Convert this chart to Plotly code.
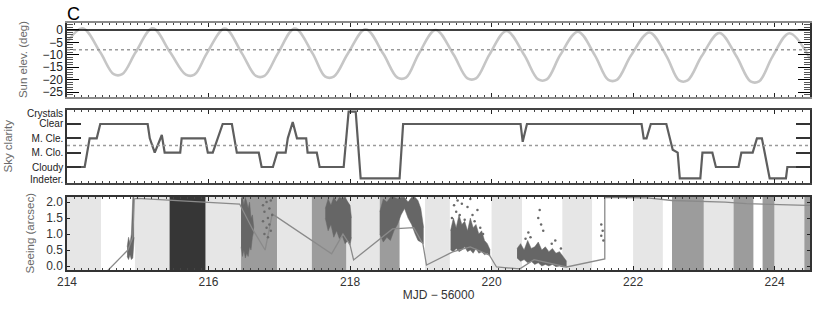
import plotly.graph_objects as go

# ---------------- data ----------------
# Top panel: sun elevation (deg) vs MJD-56000
sun_mjd = [214.0, 214.22, 214.47, 214.66, 214.78, 214.97,
           215.21, 215.46, 215.68, 215.80, 215.98,
           216.23, 216.47, 216.67, 216.79, 216.98,
           217.22, 217.47, 217.65, 217.77, 217.97,
           218.22, 218.47, 218.67, 218.79, 218.97,
           219.21, 219.46, 219.66, 219.78, 219.97,
           220.21, 220.46, 220.66, 220.78, 220.97,
           221.22, 221.46, 221.65, 221.77, 221.97,
           222.23, 222.47, 222.65, 222.77, 222.97,
           223.22, 223.46, 223.66, 223.78, 223.97,
           224.21, 224.5]
sun_elev = [-5.0, 0.7, -9.0, -17.8, -17.8, -9.0,
            0.7, -9.1, -18.0, -18.0, -9.2,
            0.6, -9.3, -18.5, -18.5, -9.4,
            0.6, -9.4, -18.8, -18.8, -9.5,
            0.3, -9.6, -19.2, -19.2, -9.7,
            0.0, -9.8, -19.5, -19.5, -9.9,
            -0.4, -10.0, -19.9, -19.9, -10.1,
            -0.7, -10.2, -20.1, -20.1, -10.3,
            -1.0, -10.4, -20.3, -20.3, -10.5,
            -1.2, -10.6, -20.7, -20.7, -10.7,
            -1.3, -11.5]
sun_ticks = [-25, -20, -15, -10, -5, 0]
sun_ref_solid = 0
sun_ref_dotted = -8

# Middle panel: sky clarity level
sky_mjd = [214.0, 214.25, 214.32, 214.42, 214.47, 215.14, 215.17, 215.24, 215.34, 215.38,
           215.60, 215.62, 215.95, 215.99, 216.06, 216.13, 216.20, 216.33, 216.40, 216.71,
           216.75, 216.91, 216.97, 217.09, 217.12, 217.19, 217.25, 217.38, 217.40, 217.53,
           217.57, 217.91, 217.98, 218.08, 218.15, 218.70, 218.75, 220.41, 220.44, 220.50,
           222.12, 222.15, 222.19, 222.25, 222.47, 222.56, 222.63, 222.66, 222.95, 222.98,
           223.12, 223.17, 223.49, 223.53, 223.69, 223.75, 223.82, 223.86, 223.93, 224.16,
           224.18, 224.5]
sky_level = [1, 1, 3, 3, 4, 4, 3, 2, 3.23, 2,
             2, 3, 3, 2, 2, 3, 4, 4, 2, 2,
             1, 1, 2, 2, 3, 4.14, 3, 3, 2, 2,
             1, 1, 4.86, 4.86, 0.2, 0.2, 4, 4, 2.76, 4,
             4, 3, 3, 4, 4, 2.2, 2, 0.2, 0.2, 2,
             2, 1, 1, 2, 2, 3, 3, 2, 0.2, 0.2,
             1, 1]
sky_tick_vals = [1, 2, 3, 4]
sky_tick_text = ["Cloudy", "M. Clo.", "M. Cle.", "Clear"]
sky_extra_labels = ["Indeter.", "Crystals"]
sky_extra_pos = [0.12, 4.75]
sky_ref_dotted = 2.5

# Bottom panel: shaded time bands
band_start = [214.0, 214.96, 215.45, 215.96, 216.46, 216.97, 217.46, 217.95, 218.42,
              219.06, 220.0, 221.0, 222.0, 222.55, 223.0, 223.42, 223.83, 224.0, 224.42]
band_end = [214.48, 215.45, 215.96, 216.46, 216.97, 217.46, 217.95, 218.42, 218.70,
            219.41, 220.43, 221.42, 222.42, 223.0, 223.42, 223.70, 224.0, 224.42, 224.5]
band_kind = ["light", "light", "dark", "light", "medium", "light", "medium", "light", "medium",
             "light", "light", "light", "light", "medium", "light", "medium", "medium", "light", "medium"]

# Seeing (arcsec): connecting line
see_line_mjd = [214.55, 214.86, 214.93, 214.95, 214.99, 216.44, 216.62, 216.80, 216.90,
                217.74, 217.90, 218.0, 218.05, 218.60, 218.90, 219.03, 219.08, 219.45,
                219.70, 219.97, 220.07, 220.40, 220.60, 221.06, 221.60, 221.60, 222.2,
                222.55, 223.3, 223.6, 224.45, 224.5]
see_line_val = [-0.2, 0.5, 0.9, 2.1, 2.12, 1.94, 1.16, 0.5, 1.63,
                0.38, 1.0, 0.66, 0.19, 1.16, 1.2, 0.69, 0.03, 0.44,
                0.6, 0.34, -0.03, -0.09, 0.2, -0.03, 0.22, 2.15, 2.13,
                2.05, 2.0, 1.95, 1.9, 1.9]

# Seeing: dense measurement clusters (lower / upper envelope)
clus1_mjd = [214.85, 214.87, 214.89, 214.91, 214.93, 214.95]
clus1_lo = [0.3, 0.2, 0.35, 0.2, 0.25, 0.9]
clus1_hi = [0.6, 0.9, 0.7, 1.0, 2.15, 2.15]
clus2_mjd = [216.46, 216.48, 216.50, 216.52, 216.54, 216.56, 216.58, 216.60, 216.62, 216.64]
clus2_lo = [0.6, 0.3, 0.5, 0.25, 0.4, 0.3, 0.6, 0.5, 0.9, 1.1]
clus2_hi = [2.1, 2.15, 1.9, 2.15, 2.0, 1.8, 2.0, 1.5, 1.6, 1.2]
clus3_mjd = [217.65, 217.69, 217.73, 217.77, 217.81, 217.85, 217.89, 217.93, 217.97, 218.0, 218.02]
clus3_lo = [1.5, 1.1, 1.3, 0.9, 1.1, 0.85, 0.95, 0.7, 0.8, 0.65, 0.9]
clus3_hi = [1.8, 2.1, 1.9, 2.15, 2.0, 2.15, 2.1, 2.15, 2.0, 1.9, 1.5]
clus4_mjd = [218.42, 218.47, 218.52, 218.57, 218.62, 218.67, 218.72, 218.77, 218.82, 218.87,
             218.92, 218.96, 219.0, 219.04]
clus4_lo = [1.0, 0.75, 0.9, 0.8, 1.1, 1.3, 1.6, 1.8, 1.5, 1.3, 1.0, 0.8, 0.75, 0.7]
clus4_hi = [1.7, 2.1, 2.0, 2.15, 2.15, 2.1, 2.15, 2.15, 2.0, 2.15, 2.15, 2.05, 1.8, 1.2]
clus5_mjd = [219.42, 219.46, 219.50, 219.54, 219.58, 219.62, 219.66, 219.70, 219.74, 219.78,
             219.82, 219.86, 219.90, 219.94, 219.98]
clus5_lo = [0.5, 0.45, 0.55, 0.45, 0.5, 0.6, 0.45, 0.5, 0.4, 0.55, 0.4, 0.45, 0.35, 0.4, 0.3]
clus5_hi = [1.1, 1.5, 1.2, 1.6, 1.3, 1.4, 1.1, 1.5, 1.2, 1.3, 1.0, 1.1, 0.8, 0.7, 0.5]
clus6_mjd = [220.36, 220.41, 220.46, 220.51, 220.56, 220.61, 220.66, 220.71, 220.76, 220.81,
             220.86, 220.91, 220.96, 221.01, 221.06]
clus6_lo = [0.25, 0.15, 0.2, 0.1, 0.15, 0.05, 0.1, 0.0, 0.05, 0.0, 0.05, -0.02, 0.0, -0.03, -0.03]
clus6_hi = [0.55, 0.7, 0.5, 0.8, 0.55, 0.6, 0.75, 0.5, 0.6, 0.45, 0.55, 0.4, 0.45, 0.3, 0.15]

# Seeing: sparse individual measurements
dot_mjd = [216.77, 216.77, 216.79, 216.79, 216.82, 216.82, 216.84, 216.84, 216.86, 216.86, 216.88, 216.88, 216.90,
           219.44, 219.47, 219.50, 219.52, 219.55, 219.58, 219.62, 219.66, 219.70, 219.73, 219.76, 219.80, 219.84, 219.88,
           220.48, 220.52, 220.55, 220.66, 220.68, 220.70, 220.73, 220.85, 220.90, 220.98,
           221.55, 221.55, 221.57, 221.58]
dot_val = [1.9, 1.4, 1.7, 1.0, 2.0, 1.2, 1.5, 0.9, 1.8, 1.3, 2.05, 1.1, 1.6,
           1.5, 1.9, 1.7, 2.05, 1.6, 1.95, 1.45, 1.85, 2.1, 1.6, 1.4, 1.75, 1.2, 1.0,
           0.85, 1.05, 0.9, 1.5, 1.75, 1.3, 1.1, 0.7, 0.8, 0.55,
           1.3, 0.95, 1.1, 0.8]
see_ticks = [0.0, 0.5, 1.0, 1.5, 2.0]

panel_titles = ["Sun elev. (deg)", "Sky clarity", "Seeing (arcsec)"]

# ---------------- figure ----------------
FONT = "Liberation Sans"
band_colors = {"light": "#e6e6e6", "medium": "#9c9c9c", "dark": "#363636"}
CLUS = "#666666"

fig = go.Figure()

fig.add_trace(go.Scatter(x=sun_mjd, y=sun_elev, mode="lines", xaxis="x", yaxis="y",
                         line=dict(color="#c6c6c6", width=2.6, shape="spline", smoothing=1.0),
                         showlegend=False, hoverinfo="skip"))

fig.add_trace(go.Scatter(x=sky_mjd, y=sky_level, mode="lines", xaxis="x2", yaxis="y2",
                         line=dict(color="#5e5e5e", width=2.2),
                         showlegend=False, hoverinfo="skip"))

for cx, lo, hi in [(clus1_mjd, clus1_lo, clus1_hi), (clus2_mjd, clus2_lo, clus2_hi),
                   (clus3_mjd, clus3_lo, clus3_hi), (clus4_mjd, clus4_lo, clus4_hi),
                   (clus5_mjd, clus5_lo, clus5_hi), (clus6_mjd, clus6_lo, clus6_hi)]:
    fig.add_trace(go.Scatter(x=cx, y=lo, mode="lines", xaxis="x3", yaxis="y3",
                             line=dict(color=CLUS, width=0.5), showlegend=False, hoverinfo="skip"))
    fig.add_trace(go.Scatter(x=cx, y=hi, mode="lines", xaxis="x3", yaxis="y3", fill="tonexty",
                             fillcolor=CLUS, line=dict(color=CLUS, width=0.5),
                             showlegend=False, hoverinfo="skip"))

fig.add_trace(go.Scatter(x=see_line_mjd, y=see_line_val, mode="lines", xaxis="x3", yaxis="y3",
                         line=dict(color="#8a8a8a", width=1.3), showlegend=False, hoverinfo="skip"))
fig.add_trace(go.Scatter(x=dot_mjd, y=dot_val, mode="markers", xaxis="x3", yaxis="y3",
                         marker=dict(color="#6a6a6a", size=2.5), cliponaxis=True,
                         showlegend=False, hoverinfo="skip"))

shapes = []
for s, e, k in zip(band_start, band_end, band_kind):
    shapes.append(dict(type="rect", xref="x3", yref="y3 domain", x0=s, x1=e, y0=0, y1=1,
                       fillcolor=band_colors[k], line=dict(width=0), layer="below"))
shapes.append(dict(type="line", xref="x domain", yref="y", x0=0, x1=1,
                   y0=sun_ref_solid, y1=sun_ref_solid, line=dict(color="#000000", width=1.5)))
shapes.append(dict(type="line", xref="x domain", yref="y", x0=0, x1=1,
                   y0=sun_ref_dotted, y1=sun_ref_dotted, line=dict(color="#9a9a9a", width=1.5, dash="dot")))
shapes.append(dict(type="line", xref="x2 domain", yref="y2", x0=0, x1=1,
                   y0=sky_ref_dotted, y1=sky_ref_dotted, line=dict(color="#9a9a9a", width=1.5, dash="dot")))

annotations = [dict(text="C", x=0, y=1, xref="paper", yref="paper", xanchor="left", yanchor="bottom",
                    xshift=-2, yshift=-3, showarrow=False, font=dict(family=FONT, size=18, color="#000000"))]
for lab, pos in zip(sky_extra_labels, sky_extra_pos):
    annotations.append(dict(text=lab, x=0, y=pos, xref="paper", yref="y2", xanchor="right",
                            yanchor="middle", xshift=-2, showarrow=False,
                            font=dict(family=FONT, size=10, color="#222222")))
# panel (y-axis) titles, rotated
for txt, yref, xs in zip(panel_titles, ["y domain", "y2 domain", "y3 domain"], [-44, -60, -37]):
    annotations.append(dict(text=txt, x=0, y=0.5, xref="paper", yref=yref, xanchor="center",
                            yanchor="middle", xshift=xs, textangle=-90, showarrow=False,
                            font=dict(family=FONT, size=11.5, color="#6a6a6a")))

xcommon = dict(range=[214, 224.5], showgrid=False, zeroline=False, tick0=214, dtick=2,
               ticks="inside", ticklen=4, tickcolor="#222222", showline=True, mirror="ticks",
               automargin=False,
               minor=dict(dtick=0.1, ticks="inside", ticklen=2, tickcolor="#444444"))

fig.update_layout(
    width=830, height=316,
    margin=dict(l=67, r=20, t=23, b=46, autoexpand=False),
    paper_bgcolor="white", plot_bgcolor="white",
    font=dict(family=FONT, size=12, color="#222222"),
    showlegend=False,
    shapes=shapes, annotations=annotations,
    xaxis=dict(xcommon, anchor="y", domain=[0, 1], showticklabels=False,
               linecolor="#8a8a8a", linewidth=2),
    xaxis2=dict(xcommon, anchor="y2", domain=[0, 1], showticklabels=False,
                linecolor="#444444", linewidth=1.5),
    xaxis3=dict(xcommon, anchor="y3", domain=[0, 1], showticklabels=True,
                linecolor="#333333", linewidth=1.5,
                tickfont=dict(size=12, color="#333333"),
                title=dict(text="MJD − 56000", font=dict(size=12, color="#333333"), standoff=2)),
    yaxis=dict(domain=[0.700, 1.0], anchor="x", range=[-27, 2.8], tickvals=sun_ticks,
               showgrid=False, zeroline=False, ticks="inside", ticklen=12, tickcolor="#000000",
               showline=True, linecolor="#333333", linewidth=1.5, mirror="ticks", automargin=False,
               minor=dict(dtick=1, tick0=0, ticks="inside", ticklen=6, tickcolor="#555555"),
               tickfont=dict(size=12, color="#222222")),
    yaxis2=dict(domain=[0.352, 0.648], anchor="x2", range=[-0.12, 4.98],
                tickvals=sky_tick_vals, ticktext=sky_tick_text, automargin=False,
                showgrid=False, zeroline=False, ticks="inside", ticklen=14, tickcolor="#333333",
                tickwidth=1.5, showline=True, linecolor="#333333", linewidth=1.5, mirror="ticks",
                tickfont=dict(size=10, color="#222222")),
    yaxis3=dict(domain=[0, 0.2955], anchor="x3", range=[-0.125, 2.16], tickvals=see_ticks,
                tickformat=".1f", showgrid=False, zeroline=False, ticks="inside", ticklen=3,
                tickcolor="#222222", showline=True, linecolor="#333333", linewidth=1.5,
                mirror="ticks", tickfont=dict(size=12, color="#333333"), automargin=False),
)

fig.write_html("out.html", config={"displayModeBar": False},
               post_script="document.body.style.margin='0';document.body.style.padding='0';")
